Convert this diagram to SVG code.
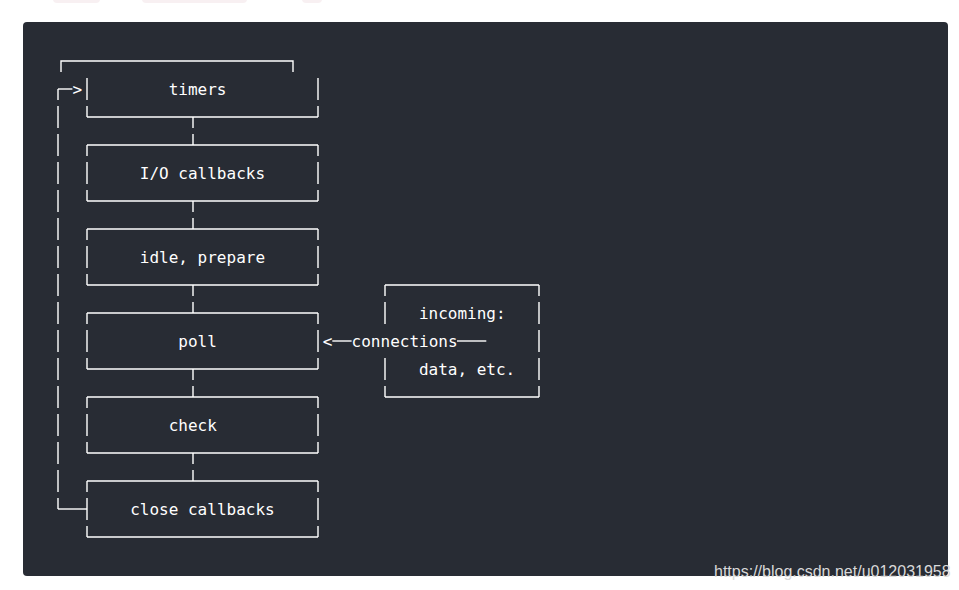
<svg xmlns="http://www.w3.org/2000/svg" width="959" height="590" viewBox="0 0 959 590">
<style>
.ln{stroke:#ffffff;stroke-width:1.4;fill:none}
.wall{stroke:#ffffff;stroke-width:1.4;fill:none;stroke-dasharray:22 6}
.off{stroke-dashoffset:11}
.gap{stroke:#ffffff;stroke-width:1.4;fill:none;stroke-dasharray:11 6}
.t{font-family:"DejaVu Sans Mono","Liberation Mono",monospace;font-size:16px;fill:#ffffff}
.wm{font-family:"Liberation Sans",Arial,sans-serif;font-size:16px;fill:#d9d9d9}
</style>
<rect x="0" y="0" width="959" height="590" fill="#ffffff"/>
<rect x="53" y="-6" width="47" height="9" rx="4" fill="#f8f0f2"/>
<rect x="142" y="-6" width="105" height="9" rx="4" fill="#f8f0f2"/>
<rect x="302" y="-6" width="20" height="9" rx="4" fill="#f8f0f2"/>
<rect x="23" y="22" width="925" height="554" rx="4" fill="#282c34"/>

<g id="connectors">
  <!-- loop back line -->
  <line class="wall off" x1="58" y1="89" x2="58" y2="509"/>
  <line class="ln" x1="58" y1="89" x2="72.4" y2="89"/>
  <text class="t" x="77.2" y="95" text-anchor="middle">&gt;</text>
  <line class="ln" x1="58" y1="509" x2="87" y2="509"/>
  <!-- between phases -->
  <line class="gap" x1="193" y1="117" x2="193" y2="145"/>
  <line class="gap" x1="193" y1="201" x2="193" y2="229"/>
  <line class="gap" x1="193" y1="285" x2="193" y2="313"/>
  <line class="gap" x1="193" y1="369" x2="193" y2="397"/>
  <line class="gap" x1="193" y1="453" x2="193" y2="481"/>
  <!-- incoming to poll -->
  <text class="t" x="327.5" y="347" text-anchor="middle">&lt;</text>
  <line class="ln" x1="332.3" y1="341" x2="351.6" y2="341"/>
  <line class="ln" x1="457" y1="341" x2="486.3" y2="341"/>
  <text class="t" x="351.6" y="347">connections</text>
</g>

<g id="timers">
  <path class="ln" d="M61 72V61H293V72"/>
  <line class="wall" x1="87" y1="78" x2="87" y2="117"/>
  <line class="wall" x1="318" y1="78" x2="318" y2="117"/>
  <line class="ln" x1="87" y1="117" x2="318" y2="117"/>
  <text class="t" x="168.7" y="95">timers</text>
</g>

<g id="io-callbacks">
  <line class="ln" x1="87" y1="145" x2="318" y2="145"/>
  <line class="ln" x1="87" y1="201" x2="318" y2="201"/>
  <line class="wall off" x1="87" y1="145" x2="87" y2="201"/>
  <line class="wall off" x1="318" y1="145" x2="318" y2="201"/>
  <text class="t" x="139.8" y="179">I/O callbacks</text>
</g>

<g id="idle-prepare">
  <line class="ln" x1="87" y1="229" x2="318" y2="229"/>
  <line class="ln" x1="87" y1="285" x2="318" y2="285"/>
  <line class="wall off" x1="87" y1="229" x2="87" y2="285"/>
  <line class="wall off" x1="318" y1="229" x2="318" y2="285"/>
  <text class="t" x="139.8" y="263">idle, prepare</text>
</g>

<g id="poll">
  <line class="ln" x1="87" y1="313" x2="318" y2="313"/>
  <line class="ln" x1="87" y1="369" x2="318" y2="369"/>
  <line class="wall off" x1="87" y1="313" x2="87" y2="369"/>
  <line class="wall off" x1="318" y1="313" x2="318" y2="369"/>
  <text class="t" x="178.3" y="347">poll</text>
</g>

<g id="check">
  <line class="ln" x1="87" y1="397" x2="318" y2="397"/>
  <line class="ln" x1="87" y1="453" x2="318" y2="453"/>
  <line class="wall off" x1="87" y1="397" x2="87" y2="453"/>
  <line class="wall off" x1="318" y1="397" x2="318" y2="453"/>
  <text class="t" x="168.7" y="431">check</text>
</g>

<g id="close-callbacks">
  <line class="ln" x1="87" y1="481" x2="318" y2="481"/>
  <line class="ln" x1="87" y1="537" x2="318" y2="537"/>
  <line class="wall off" x1="87" y1="481" x2="87" y2="537"/>
  <line class="wall off" x1="318" y1="481" x2="318" y2="537"/>
  <text class="t" x="130.2" y="515">close callbacks</text>
</g>

<g id="incoming">
  <line class="ln" x1="385" y1="285" x2="539" y2="285"/>
  <line class="ln" x1="385" y1="397" x2="539" y2="397"/>
  <line class="wall off" x1="385" y1="285" x2="385" y2="324"/>
  <line class="wall" x1="385" y1="358" x2="385" y2="397"/>
  <line class="wall off" x1="539" y1="285" x2="539" y2="397"/>
  <text class="t" x="418.9" y="319">incoming:</text>
  <text class="t" x="418.9" y="375">data, etc.</text>
</g>

<text class="wm" x="714" y="577">https://blog.csdn.net/u012031958</text>
</svg>
